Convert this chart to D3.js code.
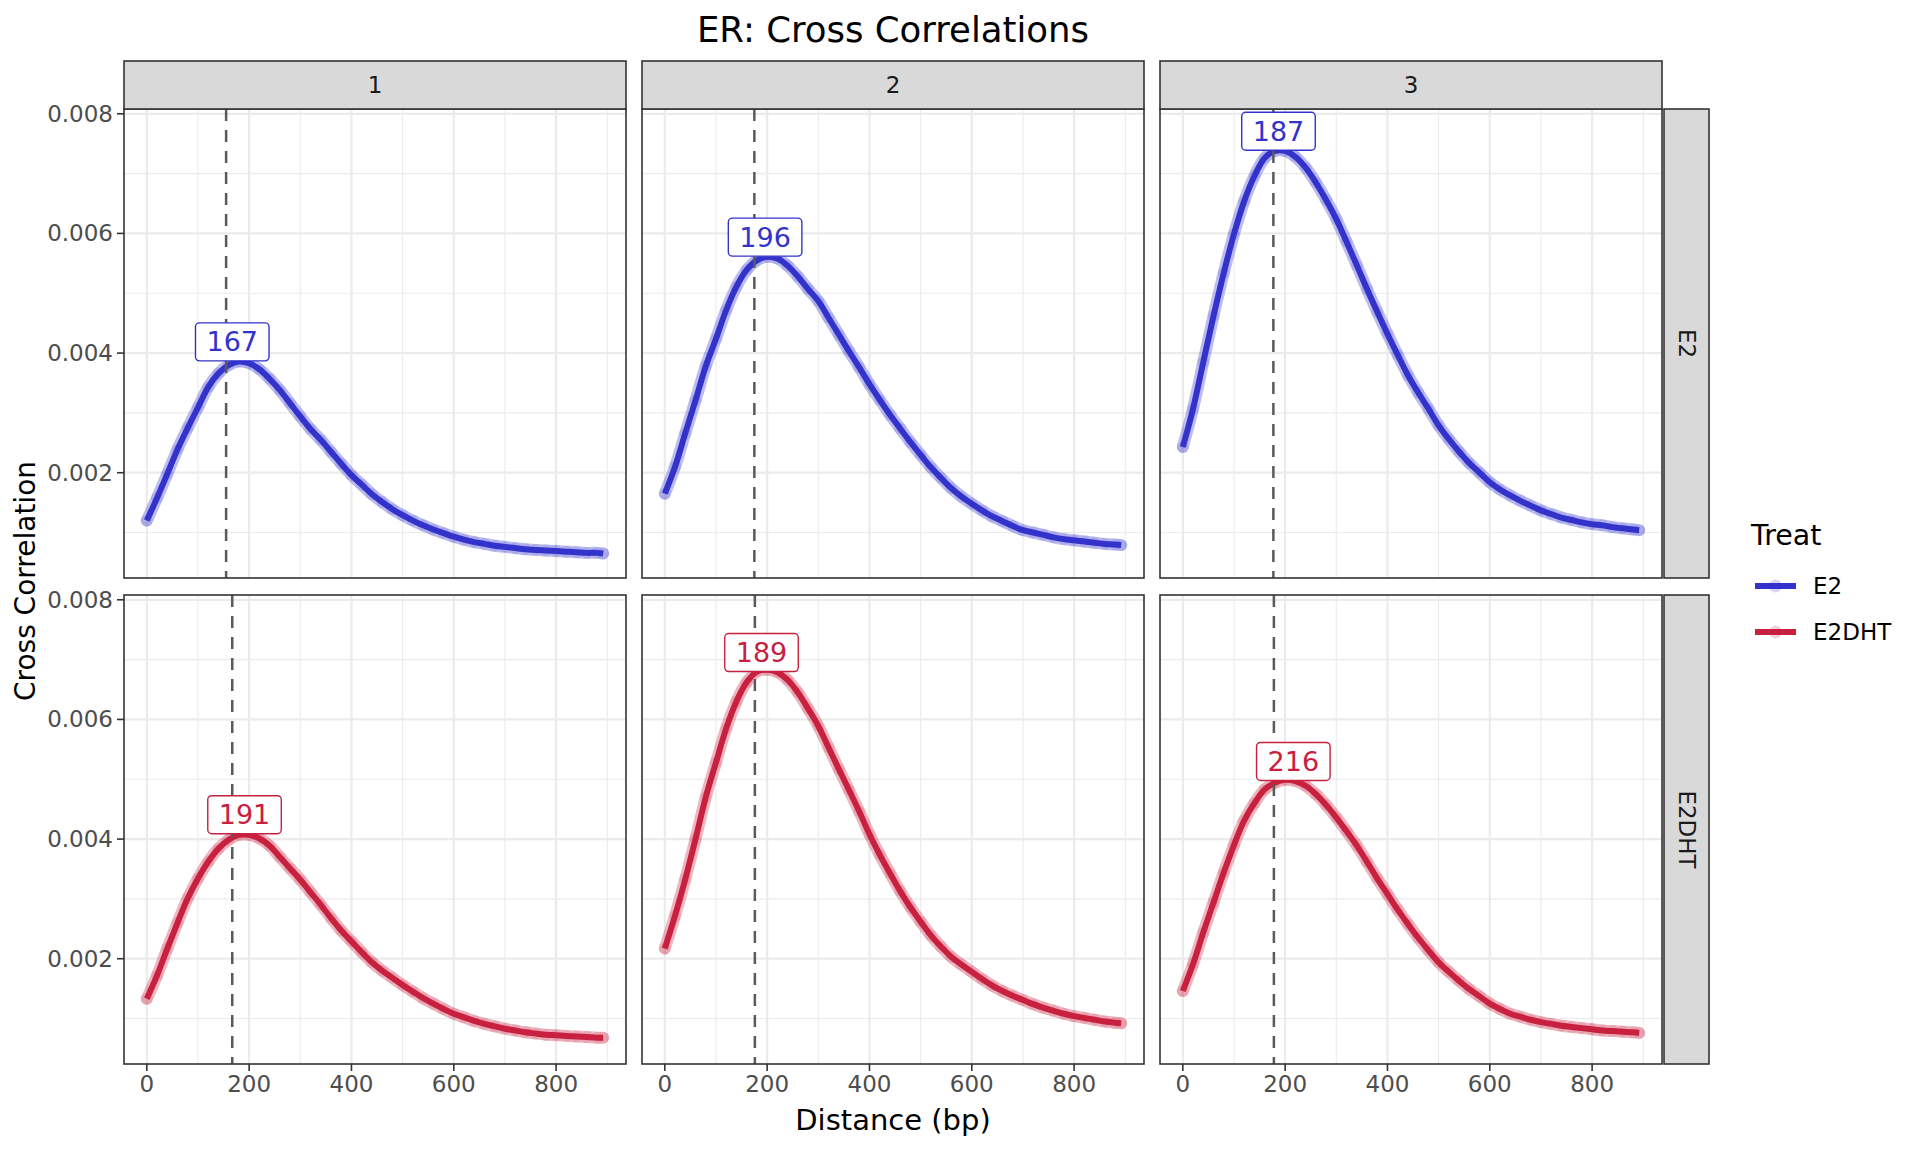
<!DOCTYPE html>
<html>
<head>
<meta charset="utf-8">
<script src="https://d3js.org/d3.v7.min.js"></script>
<style>
  body { margin: 0; background: #fff; }
  text { font-family: "DejaVu Sans", sans-serif; }
</style>
</head>
<body>
<svg id="chart" width="1920" height="1152"></svg>
<script>
const distances = [0, 20, 40, 60, 80, 100, 120, 140, 160, 180, 200, 220, 240, 260, 280, 300, 320, 340, 360, 380,
  400, 420, 440, 460, 480, 500, 520, 540, 560, 580, 600, 620, 640, 660, 680, 700, 720, 740, 760, 780,
  800, 820, 840, 860, 880, 892];

const replicates = ["1", "2", "3"];
const treats = ["E2", "E2DHT"];
const treatColors = ["#3333CC", "#C8203F"];

const e2Rep1 = [0.00120, 0.00158, 0.00198, 0.00239, 0.00275, 0.00309, 0.00343, 0.00366, 0.00380, 0.00386,
  0.00383, 0.00373, 0.00357, 0.00338, 0.00316, 0.00294, 0.00273, 0.00255, 0.00235, 0.00215,
  0.00196, 0.00180, 0.00164, 0.00151, 0.00139, 0.00129, 0.00120, 0.00112, 0.00105, 0.00099,
  0.00093, 0.00088, 0.00084, 0.00081, 0.00078, 0.00076, 0.00074, 0.00072, 0.00071, 0.00070,
  0.00069, 0.00068, 0.00067, 0.00066, 0.00066, 0.00065];
const e2Rep2 = [0.00165, 0.00210, 0.00266, 0.00321, 0.00378, 0.00424, 0.00472, 0.00511, 0.00539, 0.00555,
  0.00561, 0.00558, 0.00546, 0.00528, 0.00507, 0.00487, 0.00459, 0.00431, 0.00403, 0.00376,
  0.00348, 0.00322, 0.00297, 0.00274, 0.00251, 0.00230, 0.00209, 0.00191, 0.00174, 0.00160,
  0.00148, 0.00137, 0.00127, 0.00119, 0.00111, 0.00104, 0.00100, 0.00096, 0.00092, 0.00089,
  0.00087, 0.00085, 0.00083, 0.00081, 0.00080, 0.00079];
const e2Rep3 = [0.00243, 0.00307, 0.00385, 0.00462, 0.00534, 0.00599, 0.00654, 0.00696, 0.00726, 0.00738,
  0.00738, 0.00728, 0.00710, 0.00685, 0.00656, 0.00624, 0.00586, 0.00547, 0.00507, 0.00469,
  0.00432, 0.00397, 0.00363, 0.00334, 0.00307, 0.00279, 0.00256, 0.00235, 0.00216, 0.00200,
  0.00184, 0.00172, 0.00162, 0.00153, 0.00145, 0.00137, 0.00131, 0.00125, 0.00121, 0.00117,
  0.00114, 0.00112, 0.00109, 0.00107, 0.00105, 0.00104];
const e2dhtRep1 = [0.00133, 0.00172, 0.00217, 0.00260, 0.00301, 0.00334, 0.00362, 0.00384, 0.00399, 0.00407,
  0.00407, 0.00401, 0.00389, 0.00370, 0.00351, 0.00332, 0.00311, 0.00290, 0.00268, 0.00247,
  0.00229, 0.00211, 0.00194, 0.00180, 0.00168, 0.00156, 0.00145, 0.00134, 0.00125, 0.00116,
  0.00108, 0.00102, 0.00096, 0.00091, 0.00087, 0.00083, 0.00080, 0.00077, 0.00075, 0.00073,
  0.00072, 0.00071, 0.00070, 0.00069, 0.00068, 0.00068];
const e2dhtRep2 = [0.00217, 0.00272, 0.00333, 0.00400, 0.00470, 0.00528, 0.00585, 0.00630, 0.00662, 0.00680,
  0.00683, 0.00679, 0.00666, 0.00645, 0.00618, 0.00589, 0.00553, 0.00517, 0.00482, 0.00446,
  0.00408, 0.00374, 0.00343, 0.00313, 0.00286, 0.00262, 0.00239, 0.00220, 0.00203, 0.00190,
  0.00178, 0.00166, 0.00155, 0.00146, 0.00138, 0.00131, 0.00124, 0.00118, 0.00113, 0.00108,
  0.00104, 0.00101, 0.00098, 0.00095, 0.00093, 0.00092];
const e2dhtRep3 = [0.00146, 0.00191, 0.00244, 0.00294, 0.00344, 0.00390, 0.00431, 0.00460, 0.00483, 0.00494,
  0.00499, 0.00497, 0.00489, 0.00475, 0.00457, 0.00436, 0.00413, 0.00389, 0.00362, 0.00334,
  0.00308, 0.00282, 0.00258, 0.00235, 0.00214, 0.00194, 0.00178, 0.00163, 0.00149, 0.00137,
  0.00125, 0.00116, 0.00108, 0.00103, 0.00098, 0.00094, 0.00091, 0.00088, 0.00086, 0.00084,
  0.00082, 0.00080, 0.00079, 0.00078, 0.00077, 0.00076];

// fragment length labels and the heights they sit at, per replicate
const e2FragLen = [167, 196, 187];
const e2dhtFragLen = [191, 189, 216];
const e2FragHeight = [0.00387, 0.00562, 0.00739];
const e2dhtFragHeight = [0.00409, 0.00680, 0.00498];
// dashed vertical reference lines
const e2ReadLine = [155, 175, 177];
const e2dhtReadLine = [167, 176, 178];

const xMajor = [0, 200, 400, 600, 800];
const xMinor = [100, 300, 500, 700, 900];
const yMajor = [0.002, 0.004, 0.006, 0.008];
const yMinor = [0.001, 0.003, 0.005, 0.007];

let seriesByTreat = [[e2Rep1, e2Rep2, e2Rep3], [e2dhtRep1, e2dhtRep2, e2dhtRep3]];
let fragLenByTreat = [e2FragLen, e2dhtFragLen];
let fragHeightByTreat = [e2FragHeight, e2dhtFragHeight];
let readLineByTreat = [e2ReadLine, e2dhtReadLine];

// layout
let PANEL_X0 = 124, PANEL_W = 502, PANEL_GAP_X = 16;
let PANEL_Y0 = 109, PANEL_H = 469, PANEL_GAP_Y = 17;
let STRIP_SIZE = 48;
let TICK_LEN = 7;
let SMALL_FONT = 23;
let BORDER = "#333333";

let svg = d3.select("#chart");
svg.append("rect").attr("width", 1920).attr("height", 1152).attr("fill", "#fff");

// ggplot-style 5% expansion around the data
let xExt = d3.extent(distances);
let xPad = (xExt[1] - xExt[0]) * 0.05;
let x = d3.scaleLinear().domain([xExt[0] - xPad, xExt[1] + xPad]).range([0, PANEL_W]);
let y = d3.scaleLinear().domain([0.00024, 0.00808]).range([PANEL_H, 0]);

let line = d3.line()
  .x((d, i) => x(distances[i]))
  .y(d => y(d))
  .curve(d3.curveCatmullRom);

let defs = svg.append("defs");
defs.append("clipPath").attr("id", "panel-clip")
  .append("rect").attr("width", PANEL_W).attr("height", PANEL_H);

treats.forEach((treat, r) => {
  let py = PANEL_Y0 + r * (PANEL_H + PANEL_GAP_Y);
  let color = treatColors[r];

  replicates.forEach((rep, c) => {
    let px = PANEL_X0 + c * (PANEL_W + PANEL_GAP_X);
    let g = svg.append("g").attr("transform", `translate(${px},${py})`);
    let inner = g.append("g").attr("clip-path", "url(#panel-clip)");

    // grid
    inner.selectAll(".xminor").data(xMinor).join("line")
      .attr("x1", d => x(d)).attr("x2", d => x(d)).attr("y1", 0).attr("y2", PANEL_H)
      .attr("stroke", "#EBEBEB").attr("stroke-width", 1.1);
    inner.selectAll(".yminor").data(yMinor).join("line")
      .attr("y1", d => y(d)).attr("y2", d => y(d)).attr("x1", 0).attr("x2", PANEL_W)
      .attr("stroke", "#EBEBEB").attr("stroke-width", 1.1);
    inner.selectAll(".xmajor").data(xMajor).join("line")
      .attr("x1", d => x(d)).attr("x2", d => x(d)).attr("y1", 0).attr("y2", PANEL_H)
      .attr("stroke", "#EBEBEB").attr("stroke-width", 2.2);
    inner.selectAll(".ymajor").data(yMajor).join("line")
      .attr("y1", d => y(d)).attr("y2", d => y(d)).attr("x1", 0).attr("x2", PANEL_W)
      .attr("stroke", "#EBEBEB").attr("stroke-width", 2.2);

    let values = seriesByTreat[r][c];

    // translucent band of overlapping points around the curve
    inner.append("path").datum(values)
      .attr("d", line)
      .attr("fill", "none")
      .attr("stroke", color)
      .attr("stroke-opacity", 0.33)
      .attr("stroke-width", 12)
      .attr("stroke-linecap", "round");
    inner.selectAll("circle").data(values).join("circle")
      .attr("cx", (d, i) => x(distances[i]))
      .attr("cy", d => y(d))
      .attr("r", 6)
      .attr("fill", color)
      .attr("fill-opacity", 0.12);

    // smoothed curve
    inner.append("path").datum(values)
      .attr("d", line)
      .attr("fill", "none")
      .attr("stroke", color)
      .attr("stroke-width", 6);

    // dashed reference line
    let rx = x(readLineByTreat[r][c]);
    inner.append("line")
      .attr("x1", rx).attr("x2", rx).attr("y1", 0).attr("y2", PANEL_H)
      .attr("stroke", "#5A5A5A").attr("stroke-width", 2.5)
      .attr("stroke-dasharray", "12,9");

    // fragment length label
    let lx = x(fragLenByTreat[r][c]);
    let ly = y(fragHeightByTreat[r][c]);
    let lab = g.append("g");
    let rect = lab.append("rect");
    let txt = lab.append("text")
      .attr("x", lx).attr("y", ly - 19)
      .attr("text-anchor", "middle").attr("dominant-baseline", "central")
      .attr("font-size", 27).attr("fill", color)
      .text(fragLenByTreat[r][c]);
    let tw = txt.node().getComputedTextLength();
    rect.attr("x", lx - tw / 2 - 11).attr("y", ly - 38)
      .attr("width", tw + 22).attr("height", 38)
      .attr("rx", 4).attr("fill", "#fff")
      .attr("stroke", color).attr("stroke-width", 1.4);

    // border
    g.append("rect").attr("width", PANEL_W).attr("height", PANEL_H)
      .attr("fill", "none").attr("stroke", BORDER).attr("stroke-width", 1.6);

    // top strip
    if (r === 0) {
      g.append("rect").attr("y", -STRIP_SIZE).attr("width", PANEL_W).attr("height", STRIP_SIZE)
        .attr("fill", "#D9D9D9").attr("stroke", BORDER).attr("stroke-width", 1.6);
      g.append("text").attr("x", PANEL_W / 2).attr("y", -STRIP_SIZE / 2)
        .attr("text-anchor", "middle").attr("dominant-baseline", "central")
        .attr("font-size", SMALL_FONT).attr("fill", "#1A1A1A").text(rep);
    }

    // right strip
    if (c === replicates.length - 1) {
      g.append("rect").attr("x", PANEL_W + 2).attr("width", STRIP_SIZE - 3).attr("height", PANEL_H)
        .attr("fill", "#D9D9D9").attr("stroke", BORDER).attr("stroke-width", 1.6);
      g.append("text")
        .attr("transform", `translate(${PANEL_W + 2 + (STRIP_SIZE - 3) / 2},${PANEL_H / 2}) rotate(90)`)
        .attr("text-anchor", "middle").attr("dominant-baseline", "central")
        .attr("font-size", SMALL_FONT).attr("fill", "#1A1A1A").text(treat);
    }

    // y axis on the left column
    if (c === 0) {
      g.selectAll(".ytick").data(yMajor).join("line")
        .attr("x1", -TICK_LEN).attr("x2", 0).attr("y1", d => y(d)).attr("y2", d => y(d))
        .attr("stroke", BORDER).attr("stroke-width", 1.6);
      g.selectAll(".ylab").data(yMajor).join("text")
        .attr("x", -TICK_LEN - 4).attr("y", d => y(d))
        .attr("text-anchor", "end").attr("dominant-baseline", "central")
        .attr("font-size", SMALL_FONT).attr("fill", "#4D4D4D")
        .text(d => d3.format(".3f")(d));
    }

    // x axis on the bottom row
    if (r === treats.length - 1) {
      g.selectAll(".xtick").data(xMajor).join("line")
        .attr("x1", d => x(d)).attr("x2", d => x(d)).attr("y1", PANEL_H).attr("y2", PANEL_H + TICK_LEN)
        .attr("stroke", BORDER).attr("stroke-width", 1.6);
      g.selectAll(".xlab").data(xMajor).join("text")
        .attr("x", d => x(d)).attr("y", PANEL_H + TICK_LEN + 4)
        .attr("text-anchor", "middle").attr("dominant-baseline", "hanging")
        .attr("font-size", SMALL_FONT).attr("fill", "#4D4D4D")
        .text(d => d);
    }
  });
});

let plotLeft = PANEL_X0;
let plotRight = PANEL_X0 + 3 * PANEL_W + 2 * PANEL_GAP_X;

// titles
svg.append("text").attr("x", (plotLeft + plotRight) / 2).attr("y", 29)
  .attr("text-anchor", "middle").attr("dominant-baseline", "central")
  .attr("font-size", 35.5).attr("fill", "#000").text("ER: Cross Correlations");

svg.append("text").attr("x", (plotLeft + plotRight) / 2).attr("y", 1120)
  .attr("text-anchor", "middle").attr("dominant-baseline", "central")
  .attr("font-size", 29).attr("fill", "#000").text("Distance (bp)");

svg.append("text")
  .attr("transform", "translate(25,581) rotate(-90)")
  .attr("text-anchor", "middle").attr("dominant-baseline", "central")
  .attr("font-size", 28).attr("fill", "#000").text("Cross Correlation");

// legend
let legend = svg.append("g").attr("transform", "translate(1751,0)");
legend.append("text").attr("x", 0).attr("y", 535)
  .attr("dominant-baseline", "central").attr("font-size", 28.5).attr("fill", "#000").text("Treat");

treats.forEach((treat, i) => {
  let ky = 586 + i * 46;
  legend.append("line").attr("x1", 4).attr("x2", 45).attr("y1", ky).attr("y2", ky)
    .attr("stroke", treatColors[i]).attr("stroke-width", 6);
  legend.append("circle").attr("cx", 24.5).attr("cy", ky).attr("r", 6.5)
    .attr("fill", treatColors[i]).attr("fill-opacity", 0.2);
  legend.append("text").attr("x", 62).attr("y", ky)
    .attr("dominant-baseline", "central").attr("font-size", SMALL_FONT).attr("fill", "#000").text(treat);
});
</script>
</body>
</html>
